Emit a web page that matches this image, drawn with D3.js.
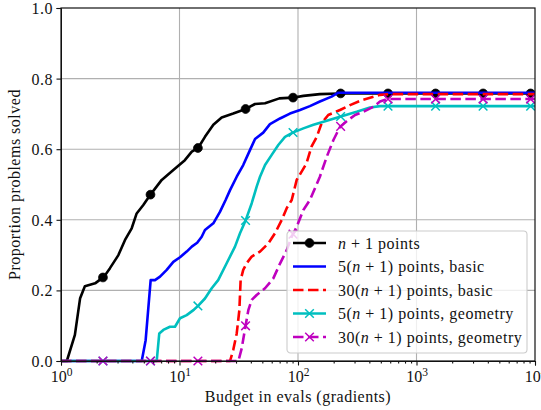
<!DOCTYPE html>
<html>
<head>
<meta charset="utf-8">
<script src="https://cdn.jsdelivr.net/npm/d3@7"></script>
<style>
  body { margin: 0; background: #fff; }
</style>
</head>
<body>
<svg id="chart" width="541" height="410"></svg>
<script>
// Budget (number of gradient evaluations) and proportion of problems solved, per solver variant.
const onePointBudget = [1, 1.12, 1.31, 1.45, 1.59, 1.94, 2.31, 2.59, 3.05, 3.47, 3.95, 4.35, 4.95, 5.29, 5.71, 7.08, 8.87, 11.1, 12.7, 14.4, 16.4, 19.3, 22.7, 28.4, 36.2, 43.4, 52.7, 69.6, 90.2, 111, 153, 226, 10000];
const onePointSolved = [0, 0, 0.074, 0.178, 0.212, 0.220, 0.239, 0.263, 0.300, 0.343, 0.376, 0.418, 0.442, 0.456, 0.472, 0.513, 0.541, 0.569, 0.593, 0.604, 0.635, 0.669, 0.690, 0.701, 0.714, 0.728, 0.730, 0.744, 0.746, 0.751, 0.756, 0.758, 0.758];

const fiveBasicBudget = [1, 4.80, 5.18, 5.71, 6.21, 6.85, 7.80, 8.87, 10.1, 11.5, 12.7, 14.1, 15.4, 16.4, 19.3, 22.0, 24.5, 26.7, 30.4, 34.5, 39.4, 43.4, 50.9, 58.0, 70.5, 85.5, 104, 126, 153, 192, 219, 10000];
const fiveBasicSolved = [0, 0, 0.059, 0.229, 0.229, 0.239, 0.258, 0.281, 0.294, 0.310, 0.324, 0.335, 0.352, 0.371, 0.390, 0.423, 0.456, 0.484, 0.522, 0.555, 0.598, 0.629, 0.647, 0.671, 0.687, 0.701, 0.711, 0.722, 0.735, 0.749, 0.760, 0.760];

const thirtyBasicBudget = [1, 26.7, 28.4, 30.4, 32.0, 32.8, 34.5, 36.9, 40.7, 47.8, 56.2, 64.0, 72.8, 80.3, 88.5, 97.5, 107, 118, 130, 144, 158, 180, 226, 275, 345, 419, 492, 597, 10000];
const thirtyBasicSolved = [0, 0, 0.031, 0.078, 0.144, 0.229, 0.258, 0.277, 0.296, 0.310, 0.333, 0.362, 0.399, 0.433, 0.456, 0.513, 0.536, 0.560, 0.607, 0.635, 0.673, 0.697, 0.711, 0.725, 0.739, 0.747, 0.754, 0.756, 0.756];

const fiveGeomBudget = [1, 6.42, 6.75, 7.30, 8.31, 9.16, 10.1, 11.5, 13.1, 14.4, 16.4, 18.7, 21.2, 25.0, 29.4, 32.4, 36.2, 40.7, 44.8, 47.8, 52.7, 60.0, 68.2, 77.7, 90.2, 111, 135, 164, 226, 313, 405, 492, 10000];
const fiveGeomSolved = [0, 0, 0.078, 0.088, 0.097, 0.097, 0.121, 0.130, 0.144, 0.157, 0.177, 0.206, 0.229, 0.277, 0.324, 0.362, 0.399, 0.447, 0.494, 0.522, 0.555, 0.584, 0.612, 0.635, 0.647, 0.659, 0.669, 0.678, 0.692, 0.706, 0.718, 0.722, 0.722];

const thirtyGeomBudget = [1, 31.4, 33.5, 36.2, 38.1, 40.7, 44.8, 52.7, 61.9, 70.5, 80.3, 88.5, 97.5, 111, 126, 153, 175, 199, 226, 266, 303, 356, 432, 492, 568, 10000];
const thirtyGeomSolved = [0, 0, 0.036, 0.102, 0.144, 0.173, 0.187, 0.206, 0.234, 0.276, 0.314, 0.352, 0.380, 0.428, 0.456, 0.522, 0.579, 0.626, 0.663, 0.683, 0.697, 0.706, 0.720, 0.735, 0.742, 0.742];

// Budgets at which the line markers sit
const markerBudgets = [2.26, 5.69, 14.3, 36.1, 90.8, 229, 575, 1449, 3648, 9183];

const xTicks = [1, 10, 100, 1000, 10000];
const xTickExponents = ["0", "1", "2", "3", "4"];
const yTicks = [0, 0.2, 0.4, 0.6, 0.8, 1.0];
const yTickLabels = ["0.0", "0.2", "0.4", "0.6", "0.8", "1.0"];

// Legend labels: [prefix, italic variable, suffix]
const seriesLabels = [
  ["", "n", " + 1 points"],
  ["5(", "n", " + 1) points, basic"],
  ["30(", "n", " + 1) points, basic"],
  ["5(", "n", " + 1) points, geometry"],
  ["30(", "n", " + 1) points, geometry"]
];

const series = [
  { budget: onePointBudget, solved: onePointSolved, color: "#000000", dash: null, marker: "circle" },
  { budget: fiveBasicBudget, solved: fiveBasicSolved, color: "#0000ff", dash: null, marker: null },
  { budget: thirtyBasicBudget, solved: thirtyBasicSolved, color: "#ff0000", dash: "10.5,4.5", marker: null },
  { budget: fiveGeomBudget, solved: fiveGeomSolved, color: "#00bfbf", dash: null, marker: "x" },
  { budget: thirtyGeomBudget, solved: thirtyGeomSolved, color: "#bf00bf", dash: "10.5,4.5", marker: "x" }
];

const FONT = "Liberation Serif, Times New Roman, serif";
const FS = 16;
const LS = "0.5px";
const TEXT = "#111";

const margin = { left: 61, right: 6, top: 8, bottom: 49 };
const W = 541, H = 410;
const iw = W - margin.left - margin.right;
const ih = H - margin.top - margin.bottom;

const svg = d3.select("#chart");
const g = svg.append("g").attr("transform", `translate(${margin.left},${margin.top})`);

const x = d3.scaleLog().domain([1, 10000]).range([0, iw]);
const y = d3.scaleLinear().domain([0, 1]).range([ih, 0]);

// Grid
g.append("g").selectAll("line").data(xTicks.slice(1, -1)).join("line")
  .attr("x1", d => x(d)).attr("x2", d => x(d)).attr("y1", 0).attr("y2", ih)
  .attr("stroke", "#b0b0b0").attr("stroke-width", 1.1);
g.append("g").selectAll("line").data(yTicks.slice(1, -1)).join("line")
  .attr("x1", 0).attr("x2", iw).attr("y1", d => y(d)).attr("y2", d => y(d))
  .attr("stroke", "#b0b0b0").attr("stroke-width", 1.1);

// Lines
g.append("clipPath").attr("id", "plotclip").append("rect")
  .attr("x", 0).attr("y", -6).attr("width", iw).attr("height", ih + 12);

const plot = g.append("g").attr("clip-path", "url(#plotclip)");
const line = d3.line().x(d => x(d[0])).y(d => y(d[1]));

function interpAt(s, b) {
  const lb = Math.log10(b);
  for (let i = 1; i < s.budget.length; i++) {
    const a0 = Math.log10(s.budget[i - 1]), a1 = Math.log10(s.budget[i]);
    if (lb <= a1) {
      const t = (lb - a0) / (a1 - a0);
      return s.solved[i - 1] + t * (s.solved[i] - s.solved[i - 1]);
    }
  }
  return s.solved[s.solved.length - 1];
}

function drawMarker(sel, type, color) {
  if (type === "circle") {
    sel.append("circle").attr("r", 4.4).attr("fill", color).attr("stroke", color).attr("stroke-width", 0.8);
  } else if (type === "x") {
    const r = 4.3;
    sel.append("path").attr("d", `M${-r},${-r}L${r},${r}M${-r},${r}L${r},${-r}`)
      .attr("stroke", color).attr("stroke-width", 1.5).attr("fill", "none");
  }
}

series.forEach(s => {
  const pts = s.budget.map((b, i) => [b, s.solved[i]]);
  plot.append("path").attr("d", line(pts))
    .attr("fill", "none").attr("stroke", s.color).attr("stroke-width", 2.6)
    .attr("stroke-linejoin", "round")
    .attr("stroke-dasharray", s.dash);
  if (s.marker) {
    markerBudgets.forEach(b => {
      const mg = plot.append("g").attr("transform", `translate(${x(b)},${y(interpAt(s, b))})`);
      drawMarker(mg, s.marker, s.color);
    });
  }
});

// Axes
const xAxis = g.append("g").attr("transform", `translate(0,${ih})`)
  .call(d3.axisBottom(x).tickValues(xTicks).tickSize(4.5).tickFormat(""));
const minor = [];
for (let d = 1; d < 10000; d *= 10) for (let k = 2; k <= 9; k++) minor.push(d * k);
g.append("g").attr("transform", `translate(0,${ih})`)
  .call(d3.axisBottom(x).tickValues(minor).tickSize(2.6).tickFormat(""))
  .call(a => a.select(".domain").remove());
xAxis.selectAll(".tick").each(function(d, i) {
  const t = d3.select(this).append("text").attr("y", 21).attr("text-anchor", "middle")
    .attr("font-family", FONT).attr("font-size", FS).attr("fill", TEXT);
  t.append("tspan").text("10");
  t.append("tspan").attr("dy", -6.5).attr("font-size", 11.5).text(xTickExponents[i]);
});

const yAxis = g.append("g")
  .call(d3.axisLeft(y).tickValues(yTicks).tickSize(4.5).tickFormat((d, i) => yTickLabels[i]));
yAxis.selectAll(".tick text").attr("font-size", FS).attr("fill", TEXT)
  .attr("font-family", FONT).attr("letter-spacing", LS).attr("x", -8).attr("dy", "0.34em");

svg.selectAll(".domain").attr("stroke", "#111");
svg.selectAll(".tick line").attr("stroke", "#111").attr("stroke-width", 1.1);

// Frame
g.append("rect").attr("width", iw).attr("height", ih)
  .attr("fill", "none").attr("stroke", "#111").attr("stroke-width", 1.2);

// Axis labels
svg.append("text").attr("x", margin.left + iw / 2).attr("y", 402)
  .attr("text-anchor", "middle").attr("font-family", FONT).attr("font-size", FS)
  .attr("letter-spacing", LS).attr("fill", TEXT).text("Budget in evals (gradients)");
svg.append("text").attr("transform", `translate(20,${margin.top + ih / 2}) rotate(-90)`)
  .attr("text-anchor", "middle").attr("font-family", FONT).attr("font-size", FS)
  .attr("letter-spacing", LS).attr("fill", TEXT).text("Proportion problems solved");

// Legend
const lg = svg.append("g").attr("transform", "translate(287,231)");
lg.append("rect").attr("width", 240).attr("height", 122).attr("rx", 3.5)
  .attr("fill", "#fff").attr("fill-opacity", 0.8).attr("stroke", "#cccccc").attr("stroke-width", 1.1);
series.forEach((s, i) => {
  const row = lg.append("g").attr("transform", `translate(0,${12 + i * 23.5})`);
  row.append("line").attr("x1", 6).attr("x2", 39).attr("y1", 0).attr("y2", 0)
    .attr("stroke", s.color).attr("stroke-width", 2.6).attr("stroke-dasharray", s.dash);
  if (s.marker) drawMarker(row.append("g").attr("transform", "translate(22.5,0)"), s.marker, s.color);
  const t = row.append("text").attr("x", 51).attr("y", 5.5)
    .attr("font-family", FONT).attr("font-size", FS).attr("letter-spacing", LS).attr("fill", TEXT);
  t.append("tspan").text(seriesLabels[i][0]);
  t.append("tspan").attr("font-style", "italic").text(seriesLabels[i][1]);
  t.append("tspan").text(seriesLabels[i][2]);
});
</script>
</body>
</html>
